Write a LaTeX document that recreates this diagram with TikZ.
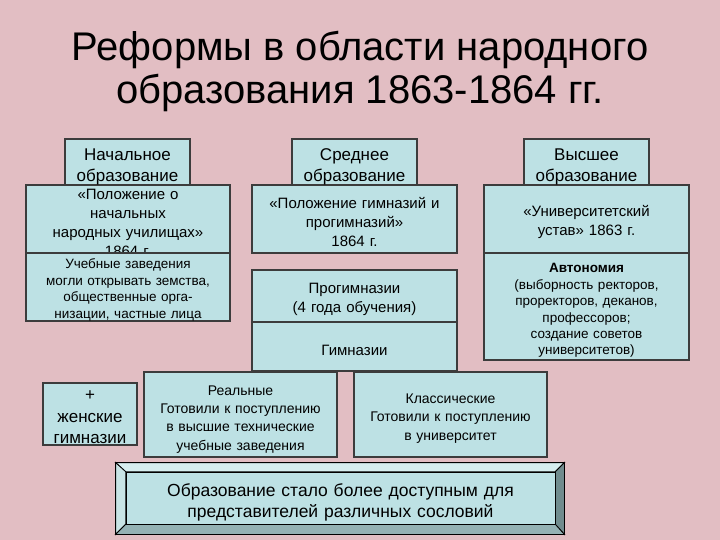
\documentclass[tikz,border=0pt]{standalone}
\usepackage{fontspec}
\setmainfont{Liberation Sans}
\usetikzlibrary{positioning}
\definecolor{fon}{RGB}{226,190,195}
\definecolor{blokc}{RGB}{189,225,228}
\definecolor{ramka}{RGB}{60,60,60}
\definecolor{fasverh}{RGB}{214,238,239}
\definecolor{faslev}{RGB}{200,228,229}
\definecolor{fasprav}{RGB}{112,140,142}
\definecolor{fasniz}{RGB}{148,178,180}
\tikzstyle{blok}=[draw=ramka,fill=blokc,line width=1.2pt,inner sep=0pt,align=center]
\tikzstyle{podpor}=[execute at begin node={\rule{0pt}{#1}}]
\tikzstyle{txtbig}=[font=\fontsize{17}{21}\selectfont,podpor=1.25em]
\tikzstyle{txtmid}=[font=\fontsize{15}{19}\selectfont,podpor=1.2em]
\tikzstyle{txtsm}=[font=\fontsize{13.5}{16.4}\selectfont,podpor=1.15em]
\tikzstyle{txtre}=[font=\fontsize{14}{18.3}\selectfont,podpor=1.25em]

\begin{document}
\begin{tikzpicture}[x=1pt,y=-1pt]
\fill[fon] (0,0) rectangle (720,540);
\useasboundingbox (0,0) rectangle (720,540);
\node[font=\fontsize{40}{43}\selectfont,align=center] (titul) at (360,71)
  {Реформы в области народного\\образования 1863-1864 гг.};
% nachalnoe
\node[blok,text width=204pt,minimum height=68pt] (polnach) at (128,219) {};
\node[txtmid,align=center,text width=204pt,inner sep=0pt] (polnachtxt) at (polnach)
  {«Положение о\\начальных\\народных училищах»\\1864 г.};
\node[blok,txtsm,text width=204pt,minimum height=68pt] (ucheb) at (128,287)
  {Учебные заведения\\могли открывать земства,\\общественные орга-\\низации, частные лица};
\node[blok,txtbig,text width=125pt,minimum height=46pt] (nach) at (127.5,162) {Начальное\\образование};
% srednee
\node[blok,txtmid,text width=205pt,minimum height=68pt] (polgim) at (354.5,219)
  {«Положение гимназий и\\прогимназий»\\1864 г.};
\node[blok,txtmid,text width=205pt,minimum height=52pt] (progim) at (354.5,296)
  {Прогимназии\\(4 года обучения)};
\node[blok,txtmid,podpor=0pt,text width=205pt,minimum height=49pt] (gimn) at (354.5,346.5) {Гимназии};
\node[blok,txtbig,text width=125pt,minimum height=46pt] (sredn) at (354.5,162) {Среднее\\образование};
% vysshee
\node[blok,txtmid,podpor=0.95em,text width=205pt,minimum height=68pt] (ustav) at (586.5,219)
  {«Университетский\\устав» 1863 г.};
\node[blok,txtsm,podpor=1.3em,text width=205pt,minimum height=107pt] (avton) at (586.5,306.5)
  {\textbf{Автономия}\\(выборность ректоров,\\проректоров, деканов,\\профессоров;\\создание советов\\университетов)};
\node[blok,txtbig,text width=125pt,minimum height=46pt] (vys) at (586.5,162) {Высшее\\образование};
% nizhnii riad
\node[blok,font=\fontsize{17}{21.5}\selectfont,podpor=1em,text width=94pt,minimum height=62pt] (zhen) at (90,414)
  {+\\женские\\гимназии};
\node[blok,txtre,podpor=1.4em,text width=193pt,minimum height=85pt] (real) at (240.5,414.5)
  {Реальные\\Готовили к поступлению\\в высшие технические\\учебные заведения};
\node[blok,txtre,text width=193pt,minimum height=85pt] (klass) at (450.5,414.5)
  {Классические\\Готовили к поступлению\\в университет};
% itog
\node[draw=black,line width=0.8pt,inner sep=0pt,minimum width=448pt,minimum height=71pt] (itogram) at (340,498.5) {};
\node[inner sep=0pt,minimum width=429pt,minimum height=52pt] (itog) at (340.5,498) {};
\filldraw[fill=fasverh,line width=0.8pt] (itogram.north west) -- (itogram.north east) -- (itog.north east) -- (itog.north west) -- cycle;
\filldraw[fill=faslev,line width=0.8pt] (itogram.north west) -- (itog.north west) -- (itog.south west) -- (itogram.south west) -- cycle;
\filldraw[fill=fasprav,line width=0.8pt] (itogram.north east) -- (itogram.south east) -- (itog.south east) -- (itog.north east) -- cycle;
\filldraw[fill=fasniz,line width=0.8pt] (itogram.south west) -- (itog.south west) -- (itog.south east) -- (itogram.south east) -- cycle;
\node[draw=black,fill=blokc,line width=0.8pt,inner sep=0pt,text width=429pt,minimum height=52pt,
  align=center,font=\fontsize{17.5}{21}\selectfont,podpor=1.2em] (itogtxt) at (itog)
  {Образование стало более доступным для\\представителей различных сословий};
\end{tikzpicture}
\end{document}
